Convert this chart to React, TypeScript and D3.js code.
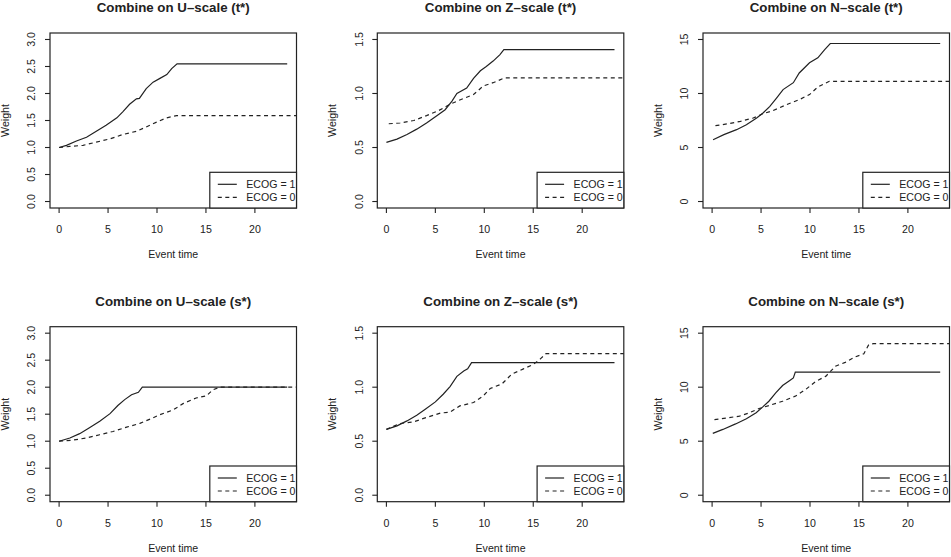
import React from "react";
import * as d3 from "d3";

// Event times / weights (one pair of arrays per curve)
const uT_e1_time = [0, 0.75, 1.77, 2.8, 3.8, 4.8, 5.9, 6.5, 7.2, 7.9, 8.2, 8.9, 9.6, 10.3, 11.0, 11.5, 12.05, 23.3];
const uT_e1_weight = [1.0, 1.04, 1.12, 1.19, 1.3, 1.41, 1.55, 1.66, 1.8, 1.9, 1.91, 2.09, 2.21, 2.28, 2.35, 2.46, 2.55, 2.55];
const uT_e0_time = [0, 1.1, 2.45, 3.8, 5.2, 6.5, 7.9, 8.9, 9.95, 11.0, 12.0, 24.5];
const uT_e0_weight = [1.0, 1.02, 1.04, 1.1, 1.16, 1.24, 1.3, 1.38, 1.47, 1.55, 1.59, 1.59];

const zT_e1_time = [0, 1.08, 2.1, 3.1, 4.1, 5.15, 6.0, 6.7, 7.2, 8.2, 8.9, 9.6, 10.2, 10.9, 11.6, 12.0, 23.3];
const zT_e1_weight = [0.547, 0.578, 0.62, 0.67, 0.727, 0.795, 0.85, 0.93, 1.0, 1.05, 1.14, 1.21, 1.25, 1.3, 1.36, 1.407, 1.407];
const zT_e0_time = [0.24, 1.4, 2.8, 4.1, 5.3, 6.5, 7.5, 8.9, 9.9, 10.9, 12.1, 24.5];
const zT_e0_weight = [0.72, 0.727, 0.75, 0.795, 0.84, 0.9, 0.94, 0.99, 1.07, 1.1, 1.145, 1.145];

const nT_e1_time = [0.1, 1.2, 2.5, 3.5, 4.55, 5.2, 5.9, 6.6, 7.25, 8.3, 8.9, 9.95, 10.8, 11.5, 12.07, 23.3];
const nT_e1_weight = [5.72, 6.19, 6.65, 7.1, 7.73, 8.2, 8.8, 9.6, 10.36, 11.0, 11.9, 12.84, 13.3, 14.07, 14.63, 14.63];
const nT_e0_time = [0.34, 1.5, 2.9, 4.2, 5.2, 6.2, 7.6, 8.9, 9.95, 10.8, 11.97, 24.5];
const nT_e0_weight = [7.02, 7.18, 7.42, 7.73, 8.13, 8.41, 8.97, 9.43, 9.9, 10.6, 11.13, 11.13];

const uS_e1_time = [0, 1.1, 2.1, 3.1, 4.15, 5.2, 6.0, 6.7, 7.4, 8.1, 8.5, 23.3];
const uS_e1_weight = [1.0, 1.06, 1.14, 1.25, 1.37, 1.51, 1.66, 1.77, 1.86, 1.905, 2.0, 2.0];
const uS_e0_time = [0, 1.4, 2.8, 4.15, 5.5, 6.9, 8.25, 9.3, 10.3, 11.65, 12.7, 14.0, 15.05, 15.7, 16.4, 24.5];
const uS_e0_weight = [1.0, 1.02, 1.06, 1.12, 1.18, 1.26, 1.33, 1.41, 1.49, 1.58, 1.7, 1.8, 1.84, 1.95, 2.0, 2.0];

const zS_e1_time = [0, 1.08, 2.1, 3.1, 3.97, 5.0, 5.8, 6.5, 7.2, 7.9, 8.3, 8.7, 23.3];
const zS_e1_weight = [0.61, 0.642, 0.688, 0.74, 0.796, 0.864, 0.935, 1.006, 1.1, 1.15, 1.17, 1.228, 1.228];
const zS_e0_time = [0, 1.4, 2.8, 4.1, 5.5, 6.5, 7.5, 8.9, 9.9, 10.6, 11.8, 12.8, 14.0, 15.0, 15.7, 16.3, 24.5];
const zS_e0_weight = [0.61, 0.664, 0.68, 0.72, 0.76, 0.77, 0.827, 0.858, 0.92, 0.988, 1.03, 1.12, 1.17, 1.21, 1.26, 1.31, 1.31];

const nS_e1_time = [0.07, 1.1, 2.4, 3.5, 4.5, 5.15, 5.8, 6.5, 7.2, 7.9, 8.3, 8.5, 23.3];
const nS_e1_weight = [5.72, 6.09, 6.6, 7.08, 7.63, 8.15, 8.7, 9.48, 10.15, 10.6, 10.86, 11.4, 11.4];
const nS_e0_time = [0.24, 1.4, 2.8, 3.8, 4.8, 5.8, 7.2, 8.5, 9.55, 10.6, 11.6, 12.6, 13.6, 14.6, 15.5, 16.0, 16.5, 24.5];
const nS_e0_weight = [7.0, 7.14, 7.32, 7.63, 8.03, 8.3, 8.7, 9.17, 9.78, 10.55, 11.0, 11.94, 12.3, 12.8, 13.1, 13.94, 14.03, 14.03];

const titles = [
  "Combine on U\u2013scale (t*)",
  "Combine on Z\u2013scale (t*)",
  "Combine on N\u2013scale (t*)",
  "Combine on U\u2013scale (s*)",
  "Combine on Z\u2013scale (s*)",
  "Combine on N\u2013scale (s*)",
];
const xTicks = [0, 5, 10, 15, 20];
const uTicks = [0, 0.5, 1, 1.5, 2, 2.5, 3];
const zTicks = [0, 0.5, 1, 1.5];
const nTicks = [0, 5, 10, 15];
const legendLabels = ["ECOG = 1", "ECOG = 0"];

const zip = (t: number[], w: number[]) => t.map((v, i) => [v, w[i]] as [number, number]);

const panels = [
  { title: titles[0], yTicks: uTicks, fmt: d3.format(".1f"), e1: zip(uT_e1_time, uT_e1_weight), e0: zip(uT_e0_time, uT_e0_weight) },
  { title: titles[1], yTicks: zTicks, fmt: d3.format(".1f"), e1: zip(zT_e1_time, zT_e1_weight), e0: zip(zT_e0_time, zT_e0_weight) },
  { title: titles[2], yTicks: nTicks, fmt: d3.format("d"), e1: zip(nT_e1_time, nT_e1_weight), e0: zip(nT_e0_time, nT_e0_weight) },
  { title: titles[3], yTicks: uTicks, fmt: d3.format(".1f"), e1: zip(uS_e1_time, uS_e1_weight), e0: zip(uS_e0_time, uS_e0_weight) },
  { title: titles[4], yTicks: zTicks, fmt: d3.format(".1f"), e1: zip(zS_e1_time, zS_e1_weight), e0: zip(zS_e0_time, zS_e0_weight) },
  { title: titles[5], yTicks: nTicks, fmt: d3.format("d"), e1: zip(nS_e1_time, nS_e1_weight), e0: zip(nS_e0_time, nS_e0_weight) },
];

const colLeft = [50, 377.3, 703];
const rowTop = [33, 326.7];
const boxW = 246.5;
const boxH = 175;
const font = "'Liberation Sans', Arial, Helvetica, sans-serif";
const ink = "#222";

const Panel: React.FC<{ p: (typeof panels)[number]; idx: number }> = ({ p, idx }) => {
  const left = colLeft[idx % 3];
  const top = rowTop[Math.floor(idx / 3)];
  const right = left + boxW;
  const bottom = top + boxH;
  const yMax = p.yTicks[p.yTicks.length - 1];

  const x = d3.scaleLinear().domain([-0.93, 24.25]).range([left, right]);
  const y = d3.scaleLinear().domain([-0.04 * yMax, 1.04 * yMax]).range([bottom, top]);
  const line = d3.line<[number, number]>().x((d) => x(d[0])).y((d) => y(d[1]));
  const clipId = `clip-${idx}`;

  const legW = 86.7;
  const legH = 35.7;
  const legL = right - legW;
  const legT = bottom - legH;

  return (
    <g fontFamily={font} fill={ink}>
      <defs>
        <clipPath id={clipId}>
          <rect x={left} y={top} width={boxW} height={boxH} />
        </clipPath>
      </defs>
      <text x={(left + right) / 2} y={top - 21} textAnchor="middle" fontWeight="bold" fontSize={13.3}>
        {p.title}
      </text>
      <g clipPath={`url(#${clipId})`} fill="none" stroke={ink} strokeWidth={1.2}>
        <path d={line(p.e1) || ""} />
        <path d={line(p.e0) || ""} strokeDasharray="4,3.5" />
      </g>
      <rect x={left} y={top} width={boxW} height={boxH} fill="none" stroke={ink} strokeWidth={1.2} />
      {xTicks.map((t) => (
        <g key={`x${t}`}>
          <line x1={x(t)} x2={x(t)} y1={bottom} y2={bottom + 5} stroke={ink} strokeWidth={1.1} />
          <text x={x(t)} y={bottom + 25} textAnchor="middle" fontSize={10.6}>
            {t}
          </text>
        </g>
      ))}
      {p.yTicks.map((t) => (
        <g key={`y${t}`}>
          <line x1={left - 5} x2={left} y1={y(t)} y2={y(t)} stroke={ink} strokeWidth={1.1} />
          <text
            transform={`translate(${left - 18.5},${y(t)}) rotate(-90)`}
            dy="0.35em"
            textAnchor="middle"
            fontSize={10.6}
          >
            {p.fmt(t)}
          </text>
        </g>
      ))}
      <text x={(left + right) / 2} y={bottom + 50} textAnchor="middle" fontSize={10.6}>
        Event time
      </text>
      <text
        transform={`translate(${left - 45},${(top + bottom) / 2}) rotate(-90)`}
        dy="0.35em"
        textAnchor="middle"
        fontSize={10.6}
      >
        Weight
      </text>
      <rect x={legL} y={legT} width={legW} height={legH} fill="white" stroke={ink} strokeWidth={1.2} />
      {legendLabels.map((lab, i) => (
        <g key={lab}>
          <line
            x1={legL + 8}
            x2={legL + 27}
            y1={legT + 12 + i * 13}
            y2={legT + 12 + i * 13}
            stroke={ink}
            strokeWidth={1.2}
            strokeDasharray={i === 1 ? "4,3.5" : undefined}
          />
          <text x={legL + 36.5} y={legT + 12 + i * 13} dy="0.35em" fontSize={10.6}>
            {lab}
          </text>
        </g>
      ))}
    </g>
  );
};

export default function App() {
  return (
    <svg
      width={951}
      height={557}
      style={{ position: "absolute", left: 0, top: 0, background: "white" }}
    >
      {panels.map((p, i) => (
        <Panel key={i} p={p} idx={i} />
      ))}
    </svg>
  );
}
